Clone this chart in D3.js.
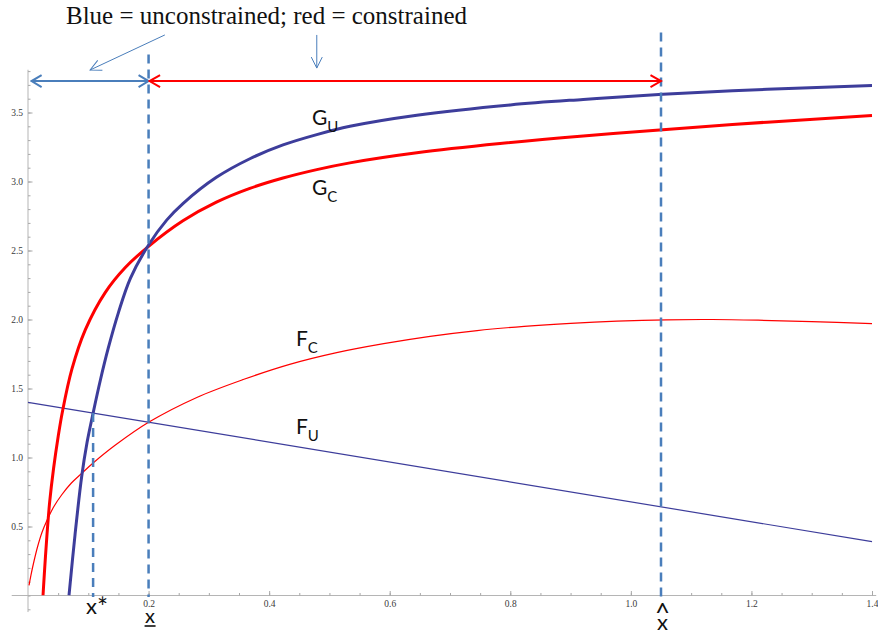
<!DOCTYPE html>
<html>
<head>
<meta charset="utf-8">
<script src="https://cdn.jsdelivr.net/npm/d3@7"></script>
<style>
  html, body { margin: 0; padding: 0; background: #fff; }
  svg { display: block; }
</style>
</head>
<body>
<svg id="chart" width="878" height="630"></svg>
<script>
// ---- data: [x, value] pairs for each curve ----
const gUnconstrained = [
  [0.068, 0.0], [0.078, 0.44], [0.089, 0.86], [0.098, 1.11], [0.108, 1.322],
  [0.12, 1.56], [0.133, 1.79], [0.15, 2.05], [0.17, 2.30], [0.2, 2.54],
  [0.23, 2.72], [0.257, 2.84], [0.3125, 3.03], [0.368, 3.165], [0.423, 3.265],
  [0.479, 3.34], [0.534, 3.40], [0.645, 3.48], [0.80, 3.555], [0.921, 3.595],
  [1.053, 3.632], [1.226, 3.668], [1.40, 3.696]
];
const gConstrained = [
  [0.0249, 0.0], [0.027, 0.15], [0.029, 0.285], [0.032, 0.47], [0.036, 0.68],
  [0.0424, 0.92], [0.05, 1.15], [0.057, 1.33], [0.0728, 1.64], [0.095, 1.925],
  [0.128, 2.195], [0.161, 2.375], [0.2, 2.53], [0.257, 2.715], [0.3125, 2.85],
  [0.368, 2.95], [0.423, 3.025], [0.479, 3.086], [0.534, 3.135], [0.645, 3.208],
  [0.783, 3.275], [0.921, 3.33], [1.053, 3.375], [1.226, 3.43], [1.40, 3.478]
];
const fConstrained = [
  [0.0017, 0.073], [0.005, 0.15], [0.01, 0.25], [0.016, 0.355], [0.023, 0.455],
  [0.031, 0.54], [0.043, 0.645], [0.056, 0.73], [0.072, 0.815], [0.089, 0.885],
  [0.108, 0.96], [0.145, 1.09], [0.2, 1.255], [0.28, 1.435], [0.357, 1.565],
  [0.434, 1.675], [0.512, 1.76], [0.59, 1.825], [0.667, 1.878], [0.745, 1.92],
  [0.823, 1.95], [0.9, 1.972], [0.977, 1.988], [1.059, 1.998], [1.135, 2.0],
  [1.211, 1.995], [1.30, 1.985], [1.40, 1.97]
];
const fUnconstrained = [[0.0, 1.40], [1.40, 0.39]];

// critical points marked on the x axis
const xStar = 0.108;
const xLow = 0.2;
const xHat = 1.05;

// tick values and labels
const xMajorTicks = [0.2, 0.4, 0.6, 0.8, 1.0, 1.2, 1.4];
const xTickLabels = ["0.2", "0.4", "0.6", "0.8", "1.0", "1.2", "1.4"];
const yMajorTicks = [0.5, 1.0, 1.5, 2.0, 2.5, 3.0, 3.5];
const yTickLabels = ["0.5", "1.0", "1.5", "2.0", "2.5", "3.0", "3.5"];

// ---- layout ----
const svg = d3.select("#chart");
const x = d3.scaleLinear().domain([0, 1.4]).range([28, 872]);
const y = d3.scaleLinear().domain([0, 3.5]).range([595.5, 112.5]);

const NAVY = "#3d3d9b";
const RED = "#ff0000";
const STEEL = "#4a7ebb";
const AXIS_GRAY = "#b5b5b5";
const serif = "'Liberation Serif', 'Times New Roman', serif";
const sans = "Lato, 'Open Sans', sans-serif";

// markers (open chevrons)
const defs = svg.append("defs");
function chevron(id, color, len, half, width) {
  defs.append("marker")
    .attr("id", id)
    .attr("markerUnits", "userSpaceOnUse")
    .attr("viewBox", `-2 -2 ${len + 4} ${2 * half + 4}`)
    .attr("markerWidth", len + 4)
    .attr("markerHeight", 2 * half + 4)
    .attr("refX", len)
    .attr("refY", half)
    .attr("orient", "auto-start-reverse")
    .append("path")
    .attr("d", `M0,0 L${len},${half} L0,${2 * half}`)
    .attr("fill", "none")
    .attr("stroke", color)
    .attr("stroke-width", width)
    .attr("stroke-linejoin", "miter");
}
chevron("headBlue", STEEL, 10, 6, 2);
chevron("headRed", RED, 10.5, 6, 2);
chevron("headThin", STEEL, 11, 5.5, 1);

defs.append("clipPath").attr("id", "plotClip")
  .append("rect").attr("x", 0).attr("y", 0).attr("width", 878).attr("height", y(0));

// ---- axes ----
svg.append("line")
  .attr("x1", x(-0.027)).attr("x2", x(1.407))
  .attr("y1", y(0)).attr("y2", y(0))
  .attr("stroke", AXIS_GRAY).attr("stroke-width", 1);
svg.append("line")
  .attr("x1", x(0)).attr("x2", x(0))
  .attr("y1", y(-0.12)).attr("y2", y(3.81))
  .attr("stroke", AXIS_GRAY).attr("stroke-width", 1);

function styleAxis(g) {
  g.select(".domain").remove();
  g.attr("color", "#a8a8a8")
   .attr("font-family", serif)
   .attr("font-size", 9.5);
  g.selectAll("text").attr("fill", "#3a3a3a");
}

// x minor ticks
svg.append("g")
  .attr("transform", `translate(0,${y(0)})`)
  .call(d3.axisBottom(x).tickValues(d3.range(1, 29).map(i => i * 0.05))
    .tickSizeInner(-2.5).tickSizeOuter(0).tickFormat(""))
  .call(styleAxis);
// x major ticks
svg.append("g")
  .attr("transform", `translate(0,${y(0)})`)
  .call(d3.axisBottom(x).tickValues(xMajorTicks)
    .tickSizeInner(-4.5).tickSizeOuter(0).tickPadding(4.8)
    .tickFormat((d, i) => xTickLabels[i]))
  .call(styleAxis);
// y minor ticks
svg.append("g")
  .attr("transform", `translate(${x(0)},0)`)
  .call(d3.axisLeft(y).tickValues(d3.range(-1, 39).map(i => i * 0.1))
    .tickSizeInner(-2.5).tickSizeOuter(0).tickFormat(""))
  .call(styleAxis);
// y major ticks
svg.append("g")
  .attr("transform", `translate(${x(0)},0)`)
  .call(d3.axisLeft(y).tickValues(yMajorTicks)
    .tickSizeInner(-4.5).tickSizeOuter(0).tickPadding(5)
    .tickFormat((d, i) => yTickLabels[i]))
  .call(styleAxis);

// ---- curves ----
const line = d3.line()
  .x(d => x(d[0]))
  .y(d => y(d[1]))
  .curve(d3.curveCatmullRom.alpha(0.5));

const curves = svg.append("g").attr("clip-path", "url(#plotClip)");
curves.append("path").datum(fUnconstrained)
  .attr("d", line).attr("fill", "none").attr("stroke", NAVY).attr("stroke-width", 1.2);
curves.append("path").datum(fConstrained)
  .attr("d", line).attr("fill", "none").attr("stroke", RED).attr("stroke-width", 1.2);
curves.append("path").datum(gConstrained)
  .attr("d", line).attr("fill", "none").attr("stroke", RED).attr("stroke-width", 3);
curves.append("path").datum(gUnconstrained)
  .attr("d", line).attr("fill", "none").attr("stroke", NAVY).attr("stroke-width", 3);

// ---- dashed guides at x*, x_, x^ ----
const fUAt = v => fUnconstrained[0][1] +
  (fUnconstrained[1][1] - fUnconstrained[0][1]) * (v - fUnconstrained[0][0]) /
  (fUnconstrained[1][0] - fUnconstrained[0][0]);
const guides = [
  { at: xStar, top: fUAt(xStar) },
  { at: xLow, top: 3.92 },
  { at: xHat, top: 4.08 }
];
svg.append("g").selectAll("line").data(guides).join("line")
  .attr("x1", d => x(d.at)).attr("x2", d => x(d.at))
  .attr("y1", d => y(d.top)).attr("y2", y(-0.01))
  .attr("stroke", STEEL).attr("stroke-width", 2.5)
  .attr("stroke-dasharray", "9,6");

// ---- range arrows ----
const arrowLevel = 3.728;
svg.append("line")
  .attr("x1", x(0.006)).attr("x2", x(xLow))
  .attr("y1", y(arrowLevel)).attr("y2", y(arrowLevel))
  .attr("stroke", STEEL).attr("stroke-width", 2)
  .attr("marker-start", "url(#headBlue)").attr("marker-end", "url(#headBlue)");
svg.append("line")
  .attr("x1", x(xLow) + 1).attr("x2", x(xHat))
  .attr("y1", y(arrowLevel)).attr("y2", y(arrowLevel))
  .attr("stroke", RED).attr("stroke-width", 2)
  .attr("marker-start", "url(#headRed)").attr("marker-end", "url(#headRed)");

// ---- caption with pointers ----
svg.append("text")
  .attr("x", 266.5).attr("y", 24)
  .attr("text-anchor", "middle")
  .attr("font-family", serif).attr("font-size", 25)
  .attr("fill", "#111")
  .text("Blue = unconstrained; red = constrained");

const pointers = [
  { from: [0.227, 4.062], to: [0.103, 3.808] },
  { from: [0.479, 4.062], to: [0.479, 3.822] }
];
svg.append("g").selectAll("line").data(pointers).join("line")
  .attr("x1", d => x(d.from[0])).attr("y1", d => y(d.from[1]))
  .attr("x2", d => x(d.to[0])).attr("y2", d => y(d.to[1]))
  .attr("stroke", STEEL).attr("stroke-width", 1)
  .attr("marker-end", "url(#headThin)");

// ---- curve labels ----
const curveLabels = [
  { main: "G", sub: "U", x: 0.471, y: 3.409 },
  { main: "G", sub: "C", x: 0.471, y: 2.902 },
  { main: "F", sub: "C", x: 0.4445, y: 1.808 },
  { main: "F", sub: "U", x: 0.4445, y: 1.170 }
];
const lbl = svg.append("g").selectAll("text").data(curveLabels).join("text")
  .attr("x", d => x(d.x)).attr("y", d => y(d.y))
  .attr("font-family", sans).attr("fill", "#111");
lbl.append("tspan").attr("font-size", 21).text(d => d.main);
lbl.append("tspan").attr("font-size", 15).attr("dy", 7).text(d => d.sub);

// ---- critical point labels under the axis ----
const marks = svg.append("g").attr("font-family", sans).attr("fill", "#111");
const starLabel = marks.append("text")
  .attr("x", x(xStar) - 7).attr("y", 614)
  .attr("font-size", 22);
starLabel.append("tspan").text("x");
starLabel.append("tspan").attr("font-size", 26).attr("dy", 3).text("*");

marks.append("text")
  .attr("x", x(xLow) + 1.5).attr("y", 623)
  .attr("text-anchor", "middle").attr("font-size", 20)
  .text("x");
marks.append("line")
  .attr("x1", x(xLow) - 4).attr("x2", x(xLow) + 7)
  .attr("y1", 626).attr("y2", 626)
  .attr("stroke", "#111").attr("stroke-width", 1.6);

const hatLabel = marks.append("text")
  .attr("text-anchor", "middle");
hatLabel.append("tspan")
  .attr("x", x(xHat) + 1.5).attr("y", 622)
  .attr("font-size", 26).text("^");
hatLabel.append("tspan")
  .attr("x", x(xHat) + 1.5).attr("y", 629.5)
  .attr("font-size", 22).text("x");
</script>
</body>
</html>
